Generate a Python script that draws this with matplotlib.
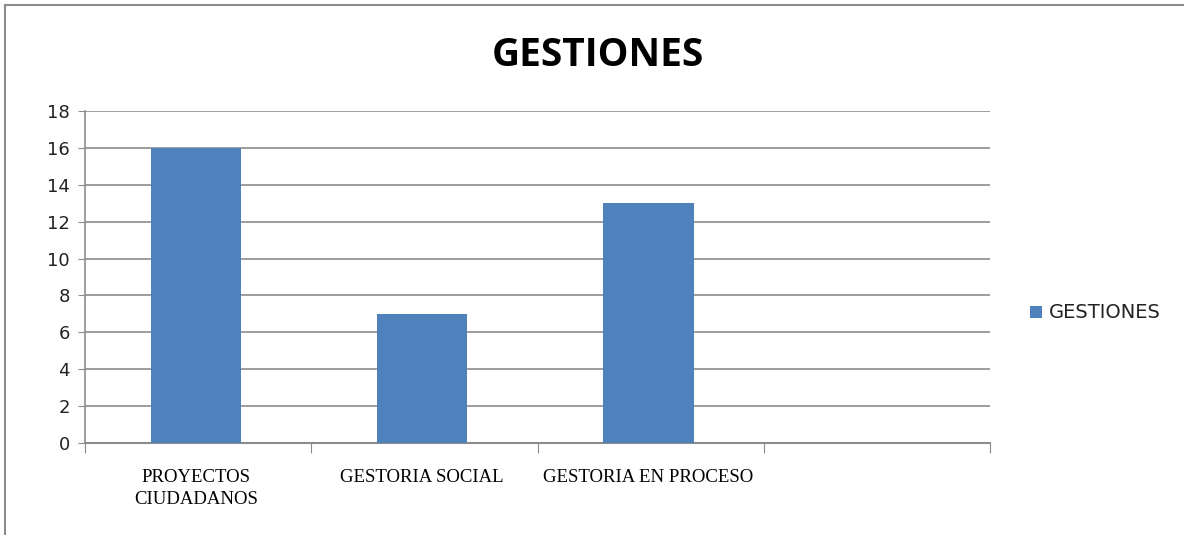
import matplotlib
matplotlib.use("Agg")
import matplotlib.pyplot as plt
from matplotlib.patches import Rectangle
import numpy as np

categories = ["PROYECTOS\nCIUDADANOS", "GESTORIA SOCIAL", "GESTORIA EN PROCESO", ""]
values = [16, 7, 13, 0]
series_name = "GESTIONES"
title = "GESTIONES"
yticks = [0, 2, 4, 6, 8, 10, 12, 14, 16, 18]

W, H = 1184, 535
fig = plt.figure(figsize=(W/100, H/100), dpi=100)
# outer frame
fig.patches.append(Rectangle((5/W, -0.1), 1.2, (H-5)/H + 0.1, transform=fig.transFigure,
                             fill=False, edgecolor="#8c8c8c", linewidth=1.5))

ax = fig.add_axes([85/W, (H-443)/H, (990-85)/W, (443-111)/H])
x = np.arange(len(categories))
bar_color = "#4f81bd"
ax.bar(x[:3] - 0.01, values[:3], width=0.4, color=bar_color, label=series_name, zorder=3)
ax.set_xlim(-0.5, len(categories) - 0.5)
ax.set_ylim(0, 18)
ax.set_yticks(yticks)
ax.set_yticklabels([str(v) for v in yticks], fontsize=13, family="DejaVu Sans", color="#222222")
ax.yaxis.grid(True, color="#8c8c8c", linewidth=1.2, zorder=0)
ax.set_axisbelow(True)
for s in ["top", "right"]:
    ax.spines[s].set_visible(False)
ax.spines["left"].set_color("#8c8c8c")
ax.spines["bottom"].set_color("#8c8c8c")
ax.spines["left"].set_linewidth(1.2)
ax.spines["bottom"].set_linewidth(1.5)
ax.tick_params(axis="y", length=5, color="#8c8c8c", pad=6)

# category boundary ticks
ax.set_xticks(np.arange(len(categories) + 1) - 0.5)
ax.set_xticklabels([])
ax.tick_params(axis="x", length=7, color="#8c8c8c", direction="out")
for xi, lab in zip(x, categories):
    ax.text(xi - 0.01, -1.4, lab, ha="center", va="top", fontsize=13.5, family="Liberation Serif",
            fontweight="normal", color="#000000", linespacing=1.4, transform=ax.transData)

fig.text(598/W, 1 - 55/H, title, ha="center", va="center", fontsize=28,
         fontweight="bold", family="Open Sans", color="#000000")

# legend
fig.patches.append(Rectangle((1030/W, 1 - 318/H), 12/W, 12/H, transform=fig.transFigure,
                             facecolor=bar_color, edgecolor="none"))
fig.text(1049/W, 1 - 312/H, series_name, ha="left", va="center", fontsize=14,
         family="DejaVu Sans", color="#222222")

fig.savefig("out.png", dpi=100)
